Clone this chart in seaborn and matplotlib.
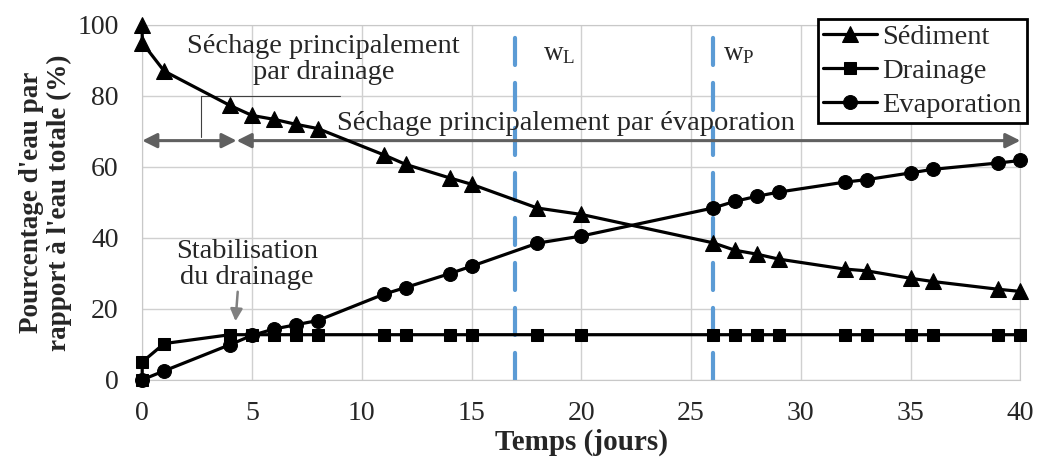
import numpy as np
import pandas as pd
import seaborn as sns
import matplotlib.pyplot as plt

## data
jours = [0, 0, 1, 4, 5, 6, 7, 8, 11, 12, 14, 15, 18, 20, 26, 27, 28, 29, 32, 33, 35, 36, 39, 40]
sediment = [100, 95, 87, 77.3, 74.5, 73.4, 72, 70.8, 63.4, 60.7, 56.9, 55.1, 48.4, 46.6,
            38.6, 36.5, 35.4, 34, 31.2, 30.7, 28.6, 27.7, 25.5, 24.9]
drainage = [0, 5, 10.2, 12.7, 12.7, 12.7, 12.7, 12.7, 12.7, 12.7, 12.7, 12.7, 12.7, 12.7,
            12.7, 12.7, 12.7, 12.7, 12.7, 12.7, 12.7, 12.7, 12.7, 12.7]
jours_evap = [0, 1, 4, 5, 6, 7, 8, 11, 12, 14, 15, 18, 20, 26, 27, 28, 29, 32, 33, 35, 36, 39, 40]
evaporation = [0, 2.5, 9.9, 12.5, 14.3, 15.5, 16.7, 24.1, 26, 29.9, 32, 38.5, 40.5, 48.4,
               50.3, 51.7, 52.9, 55.7, 56.4, 58.3, 59.3, 61.1, 61.8]
limites = [17, 26]
limites_noms = ['w$_\\mathregular{L}$', 'w$_\\mathregular{P}$']

sns.set_style("white")
plt.rcParams['font.family'] = ['Liberation Serif', 'DejaVu Serif']
plt.rcParams['mathtext.default'] = 'regular'

fig = plt.figure(figsize=(10.38, 4.62), dpi=100)
ax = fig.add_axes([0.137, 0.178, 0.846, 0.768])

## Dashed limits
for x in limites:
    ax.axvline(x, ymax=0.98, color='#5b9bd5', lw=3, dashes=(6.5, 4.3), dash_capstyle='round', zorder=2)
ax.text(limites[0] + 1.25, 92, limites_noms[0], fontsize=19.5, ha='left', va='center')
ax.text(limites[1] + 0.45, 92, limites_noms[1], fontsize=19.5, ha='left', va='center')

## Series
sns.lineplot(x=jours, y=sediment, color='black', marker='^', markersize=11, lw=2.3,
             estimator=None, sort=False, label='Sédiment', ax=ax, zorder=5,
             markeredgecolor='black', clip_on=False)
sns.lineplot(x=jours, y=drainage, color='black', marker='s', markersize=9, lw=2.3,
             estimator=None, sort=False, label='Drainage', ax=ax, zorder=6,
             markeredgecolor='black', clip_on=False)
sns.lineplot(x=jours_evap, y=evaporation, color='black', marker='o', markersize=10, lw=2.3,
             estimator=None, sort=False, label='Evaporation', ax=ax, zorder=5,
             markeredgecolor='black', clip_on=False)

## Arrows & annotations
gris = '#606060'
ax.annotate('', xy=(0, 67.4), xytext=(4.3, 67.4),
            arrowprops=dict(arrowstyle='<|-|>', color=gris, lw=2.2, mutation_scale=22,
                            shrinkA=0, shrinkB=0), zorder=3)
ax.annotate('', xy=(4.3, 67.4), xytext=(40, 67.4),
            arrowprops=dict(arrowstyle='<|-|>', color=gris, lw=2.2, mutation_scale=22,
                            shrinkA=0, shrinkB=0), zorder=3)
ax.plot([2.67, 9.0], [80, 80], color='#404040', lw=0.8, zorder=3)
ax.plot([2.67, 2.67], [80, 68.5], color='#404040', lw=0.8, zorder=3)

ax.text(8.27, 90.2, 'Séchage principalement\npar drainage', fontsize=20.5, ha='center',
        va='center', linespacing=1.05, zorder=4)
ax.text(19.3, 70.3, 'Séchage principalement par évaporation', fontsize=20.5, ha='center',
        va='baseline', zorder=4)
ax.text(4.76, 32.5, 'Stabilisation\ndu drainage', fontsize=20.5, ha='center', va='center',
        linespacing=1.05, zorder=4)
ax.annotate('', xy=(4.25, 16.5), xytext=(4.35, 24.8),
            arrowprops=dict(arrowstyle='-|>', color='#808080', lw=1.8, mutation_scale=18,
                            shrinkA=0, shrinkB=0), zorder=4)

## Axes
ax.set_xlim(0, 40)
ax.set_ylim(0, 100)
ax.set_xticks(np.arange(0, 41, 5))
ax.set_yticks(np.arange(0, 101, 20))
ax.grid(True, color='#d0d0d0', lw=1)
ax.set_axisbelow(True)
for s in ax.spines.values():
    s.set_color('#c8c8c8')
ax.tick_params(length=0, labelsize=20)
ax.tick_params(axis='x', pad=15)
ax.tick_params(axis='y', pad=17)
ax.set_xlabel('Temps (jours)', fontsize=21, fontweight='bold', labelpad=2)
ax.set_ylabel("Pourcentage d'eau par\nrapport à l'eau totale (%)", fontsize=19.5,
              fontweight='bold', labelpad=4, linespacing=1.15)

leg = ax.legend(loc='upper right', bbox_to_anchor=(0.9894, 0.959),
                bbox_transform=fig.transFigure, fontsize=20.5, handlelength=1.9,
                handletextpad=0.2, labelspacing=0.28, borderpad=0.18, borderaxespad=0,
                fancybox=False, framealpha=1, edgecolor='black')
leg.get_frame().set_linewidth(2)
leg.set_zorder(10)

fig.savefig('out.png', dpi=100)
